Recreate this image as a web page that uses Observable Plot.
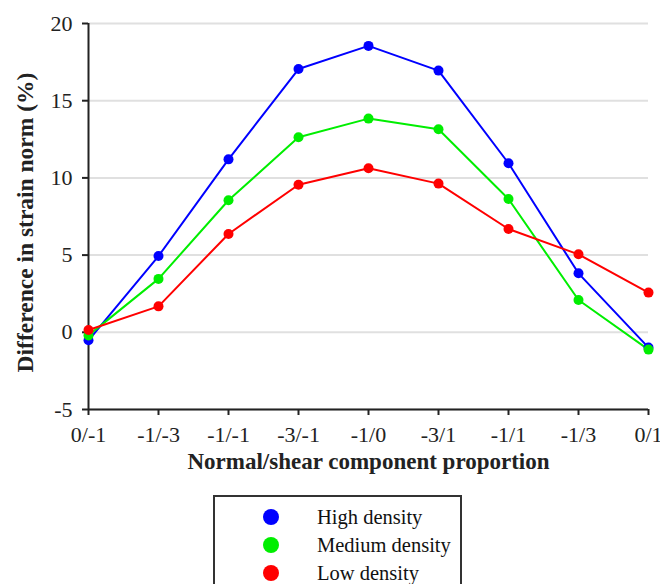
<!DOCTYPE html>
<html>
<head>
<meta charset="utf-8">
<script src="https://cdn.jsdelivr.net/npm/d3@7"></script>
<script src="https://cdn.jsdelivr.net/npm/@observablehq/plot@0.6"></script>
<style>
  html, body { margin: 0; padding: 0; background: #fff; }
  #wrap { position: relative; width: 660px; height: 584px; overflow: hidden; font-family: "Liberation Serif", "Times New Roman", serif; }
  #chart svg text { font-family: "Liberation Serif", "Times New Roman", serif; }
  #legend { position: absolute; left: 213px; top: 495px; width: 249px; height: 110px; border: 2px solid #333; box-sizing: border-box; background: #fff; }
  .item { position: absolute; left: 0; height: 28px; width: 100%; }
  .dot { position: absolute; left: 48px; top: 6px; width: 16px; height: 16px; border-radius: 50%; }
  .lab { position: absolute; left: 102px; top: 2px; font-size: 20.5px; line-height: 24px; color: #111; white-space: nowrap; }
</style>
</head>
<body>
<div id="wrap">
  <div id="chart"></div>
  <div id="legend"></div>
</div>
<script>
const categories = ["0/-1", "-1/-3", "-1/-1", "-3/-1", "-1/0", "-3/1", "-1/1", "-1/3", "0/1"];
const highDensity   = [-0.52, 4.94, 11.2, 17.05, 18.55, 16.95, 10.95, 3.82, -0.99];
const mediumDensity = [-0.2, 3.46, 8.55, 12.63, 13.84, 13.15, 8.63, 2.09, -1.12];
const lowDensity    = [0.15, 1.68, 6.37, 9.56, 10.62, 9.63, 6.69, 5.05, 2.57];
const seriesNames = ["High density", "Medium density", "Low density"];
const seriesColors = ["#0000ff", "#00ee00", "#ff0000"];
const yTicks = [-5, 0, 5, 10, 15, 20];

const seriesValues = [highDensity, mediumDensity, lowDensity];
const rows = [];
seriesValues.forEach((vals, si) => {
  vals.forEach((v, i) => rows.push({series: seriesNames[si], cat: categories[i], value: v}));
});

const chart = Plot.plot({
  width: 660,
  height: 490,
  marginLeft: 88,
  marginRight: 12,
  marginTop: 23,
  marginBottom: 81,
  style: {fontFamily: "'Liberation Serif', 'Times New Roman', serif", fontSize: "22px", background: "#fff", color: "#222", overflow: "visible"},
  x: {type: "point", domain: categories, padding: 0},
  y: {domain: [-5, 20]},
  color: {domain: seriesNames, range: seriesColors},
  marks: [
    Plot.gridY(yTicks, {stroke: "#e0e0e0", strokeOpacity: 1, strokeWidth: 2}),
    Plot.ruleY([-5], {stroke: "#222", strokeWidth: 2}),
    Plot.ruleX([categories[0]], {stroke: "#222", strokeWidth: 2}),
    Plot.axisY(yTicks, {tickSize: 6, tickPadding: 10, strokeWidth: 2, stroke: "#222", tickFormat: d => `${d}`, label: null, fill: "#222"}),
    Plot.axisX(categories, {tickSize: 6, tickPadding: 11, strokeWidth: 2, stroke: "#222", label: null, fill: "#222"}),
    Plot.text(["Normal/shear component proportion"], {frameAnchor: "bottom", dy: 59, fontSize: 23, fontWeight: "bold", fill: "#222"}),
    Plot.text(["Difference in strain norm (%)"], {frameAnchor: "left", dx: -63, dy: 6, rotate: -90, textAnchor: "middle", fontSize: 23.5, fontWeight: "bold", fill: "#222"}),
    Plot.line(rows, {x: "cat", y: "value", z: "series", stroke: "series", strokeWidth: 2}),
    Plot.dot(rows, {x: "cat", y: "value", fill: "series", r: 5})
  ]
});
document.getElementById("chart").appendChild(chart);

const legend = document.getElementById("legend");
seriesNames.forEach((name, i) => {
  const item = document.createElement("div");
  item.className = "item";
  item.style.top = (6 + i * 28) + "px";
  const dot = document.createElement("div");
  dot.className = "dot";
  dot.style.background = seriesColors[i];
  const lab = document.createElement("div");
  lab.className = "lab";
  lab.textContent = name;
  item.appendChild(dot);
  item.appendChild(lab);
  legend.appendChild(item);
});
</script>
</body>
</html>
